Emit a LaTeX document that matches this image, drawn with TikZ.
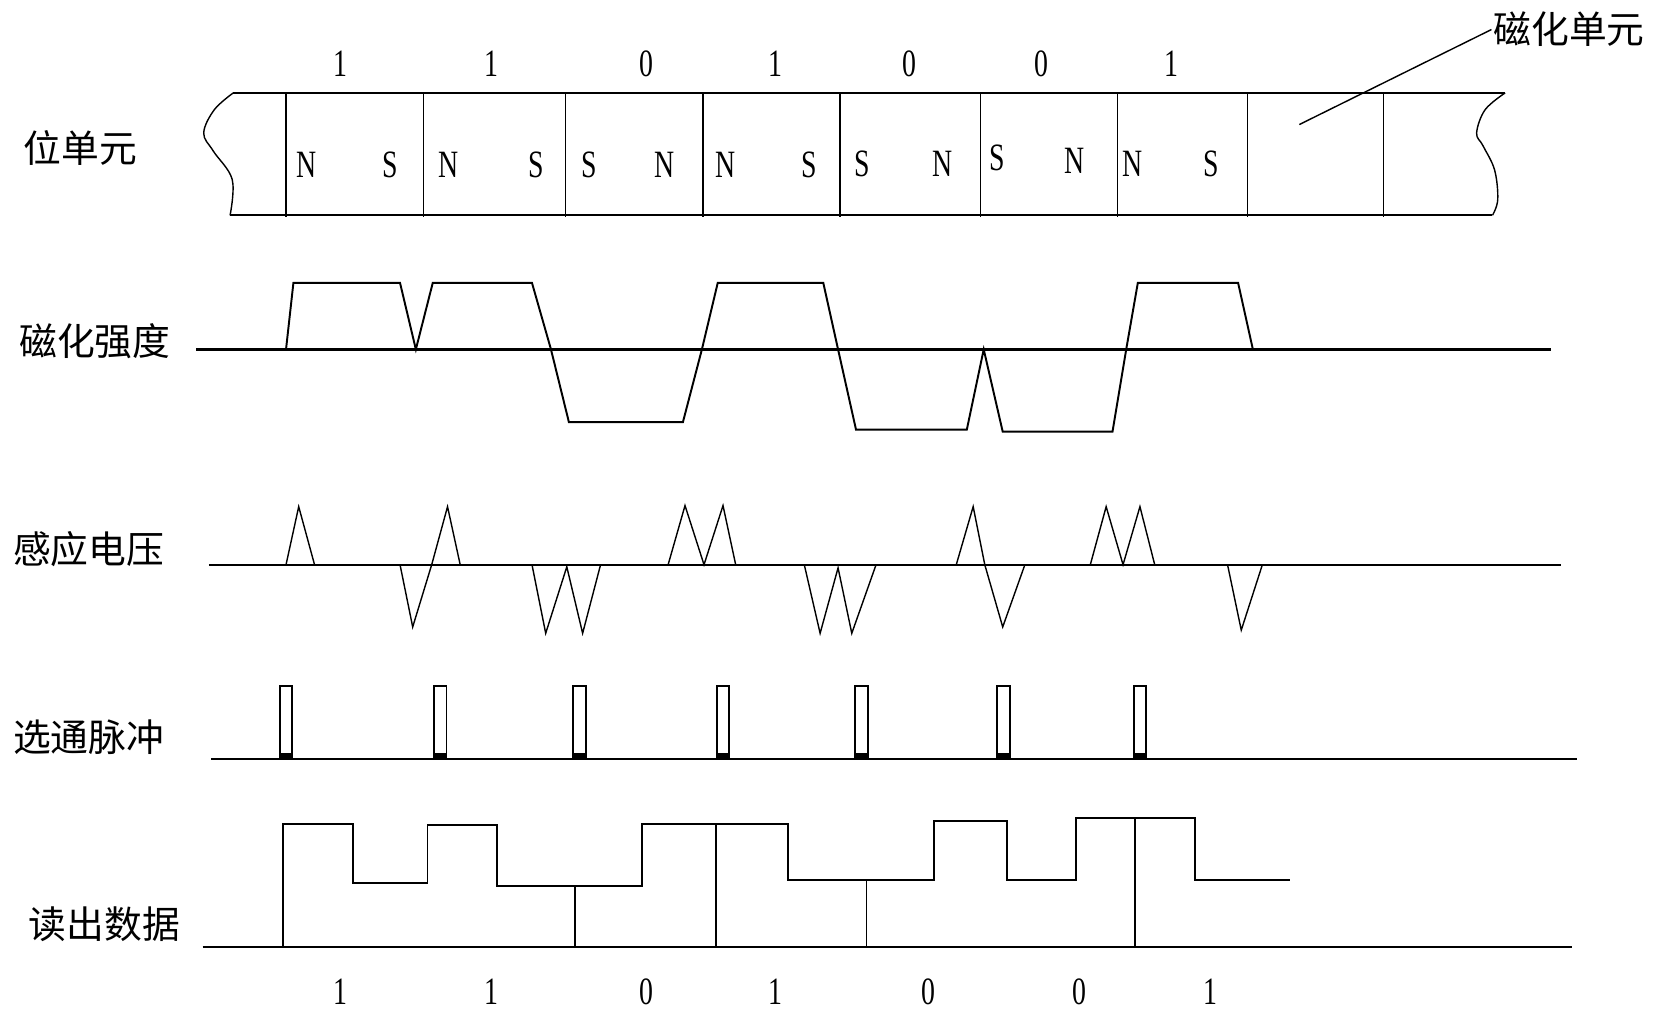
\documentclass[tikz,border=0pt]{standalone}
\usepackage{fontspec}
\setmainfont{Liberation Serif}
\newfontfamily\cjk{Noto Sans CJK SC}
\usetikzlibrary{positioning}

\newcommand{\narrow}[1]{\scalebox{0.72}[1]{#1}}

\begin{document}
\begin{tikzpicture}[x=0.02111cm, y=-0.02111cm,
    wave/.style={line width=1.1pt, line join=miter},
    thinwave/.style={line width=0.8pt},
    axis/.style={line width=1.3pt},
    rowlabel/.style={font=\cjk\fontsize{21.5}{21.5}\selectfont, inner sep=0pt, anchor=west},
    pole/.style={font=\fontsize{22}{22}\selectfont, inner sep=0pt},
    bit/.style={font=\fontsize{22}{22}\selectfont, inner sep=0pt}]
    \useasboundingbox (0,0) rectangle (1568,957);

    % Row labels
    \node[rowlabel] (cellrow) at (22,140) {位单元};
    \node[rowlabel] (magrow) at (18,323) {磁化强度};
    \node[rowlabel] (voltrow) at (12,520) {感应电压};
    \node[rowlabel] (strobrow) at (12,698) {选通脉冲};
    \node[rowlabel] (readrow) at (27,876) {读出数据};
    \node[rowlabel, inner sep=1pt] (unitlabel) at (1413,28) {磁化单元};

    % Magnetic strip
    \draw[wave] (221,88) -- (1426,88);
    \draw[wave] (218,204) -- (1414,204);
    \draw[thinwave] plot[smooth, tension=0.6] coordinates
        {(221,88) (203,104) (193,126) (202,143) (220,170) (218,204)};
    \draw[thinwave] plot[smooth, tension=0.6] coordinates
        {(1426,88) (1407,104) (1399,126) (1405,138) (1416,161) (1419,189) (1414,204)};
    \foreach \x in {271,401,536,666,796,929,1059,1182,1311}
        \draw[thinwave] (\x,88) -- (\x,206);
    \coordinate (leadtip) at (1231,118);
    \draw[thinwave] (leadtip) -- (unitlabel.west);

    % Poles in each bit cell
    \foreach \x/\y/\p [count=\i] in {290/156/N, 370/156/S, 425/156/N, 508/156/S,
        558/156/S, 630/156/N, 687/156/N, 767/156/S, 817/155/S, 893/155/N,
        945/150/S, 1018/152/N, 1073/155/N, 1148/155/S}
        \node[pole] (pole\i) at (\x,\y) {\narrow{\p}};

    % Bit values above and below
    \foreach \x/\b [count=\i] in {323/1, 466/1, 612/0, 735/1, 862/0, 987/0, 1110/1}
        \node[bit] (topbit\i) at (\x,60) {\narrow{\b}};
    \foreach \x/\b [count=\i] in {323/1, 466/1, 612/0, 735/1, 880/0, 1023/0, 1147/1}
        \node[bit] (lowbit\i) at (\x,940) {\narrow{\b}};

    % Magnetization
    \draw[axis] (186,331) -- (1469,331);
    \draw[wave] (271,331) -- (278,268) -- (379,268) -- (394,331) -- (410,268)
        -- (504,268) -- (522,331) -- (539,400) -- (647,400) -- (665,331)
        -- (680,268) -- (780,268) -- (794,331) -- (811,407) -- (916,407)
        -- (932,331) -- (950,409) -- (1054,409) -- (1067,331) -- (1078,268)
        -- (1173,268) -- (1187,331);

    % Induced voltage
    \draw[axis] (198,535) -- (1479,535);
    \draw[thinwave] (271,535) -- (283,480) -- (298,535);
    \draw[thinwave] (379,535) -- (391,594) -- (409,535) -- (424,480) -- (436,535);
    \draw[thinwave] (504,535) -- (517,600) -- (537,537) -- (552,600) -- (569,535);
    \draw[thinwave] (633,535) -- (649,479) -- (667,535) -- (685,479) -- (697,535);
    \draw[thinwave] (762,535) -- (777,600) -- (794,538) -- (807,600) -- (830,535);
    \draw[thinwave] (906,535) -- (922,480) -- (933,535) -- (950,594) -- (971,535);
    \draw[thinwave] (1033,535) -- (1048,480) -- (1064,535) -- (1080,480) -- (1094,535);
    \draw[thinwave] (1163,535) -- (1176,597) -- (1196,535);

    % Strobe pulses
    \draw[axis] (200,719) -- (1494,719);
    \foreach \x in {271,417,549,685,816,951,1080} {
        \fill (\x-6,713) rectangle (\x+6,719);
        \draw[wave] (\x-6,719) rectangle (\x+6,650);
    }

    % Read data
    \draw[axis] (192,897) -- (1489,897);
    \draw[wave] (268,897) -- (268,781) -- (334,781) -- (334,837) -- (405,837)
        -- (405,782) -- (471,782) -- (471,839) -- (608,839) -- (608,781)
        -- (747,781) -- (747,834) -- (885,834) -- (885,778) -- (954,778)
        -- (954,834) -- (1019,834) -- (1019,775) -- (1132,775) -- (1132,834)
        -- (1222,834);
    \draw[wave] (545,839) -- (545,897);
    \draw[wave] (678,781) -- (678,897);
    \draw[thinwave] (821,834) -- (821,897);
    \draw[wave] (1075,775) -- (1075,897);
\end{tikzpicture}
\end{document}
